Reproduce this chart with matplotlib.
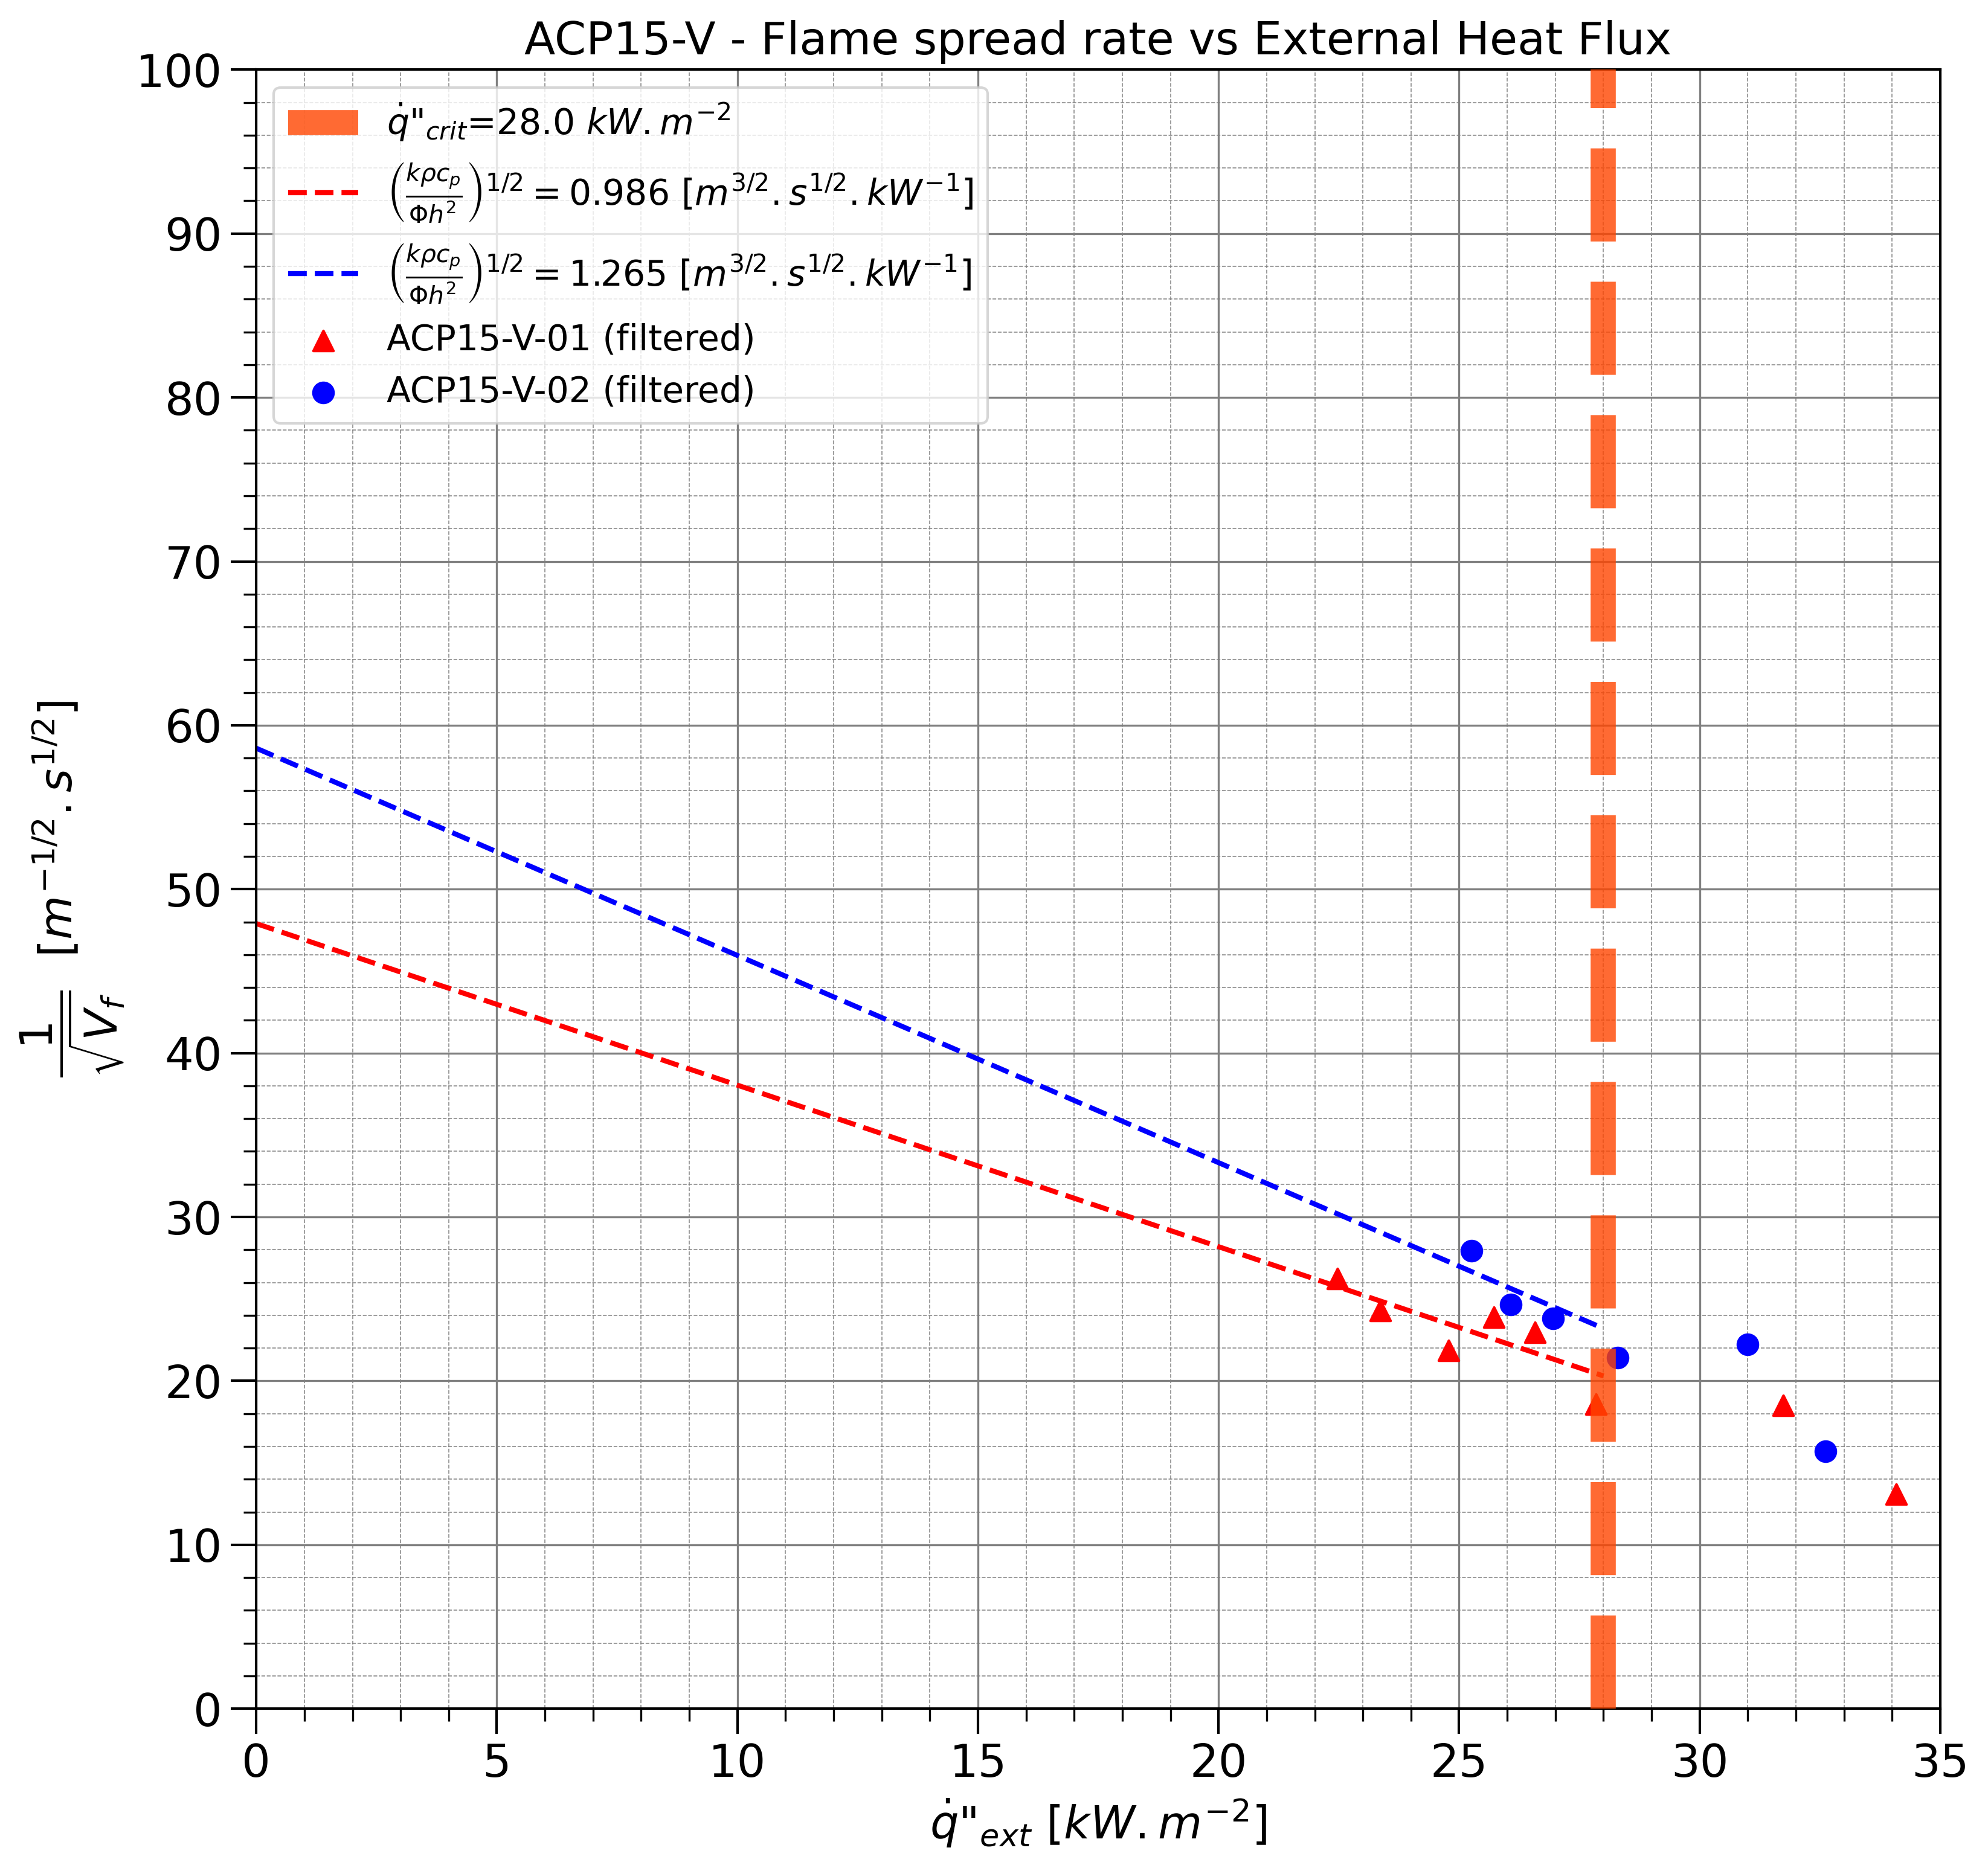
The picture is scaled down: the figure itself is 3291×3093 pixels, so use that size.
import numpy as np
import matplotlib
matplotlib.use("Agg")
import matplotlib.pyplot as plt
from matplotlib.ticker import MultipleLocator

# ── data ─────────────────────────────────────────────────────────────────────
q_crit = 28.0

v01_q = [22.47, 23.36, 24.78, 25.72, 26.58, 27.84, 31.74, 34.08]
v01_y = [26.23, 24.30, 21.86, 23.90, 22.96, 18.58, 18.49, 13.10]

v02_q = [25.26, 26.07, 26.95, 28.30, 31.00, 32.62]
v02_y = [27.94, 24.65, 23.80, 21.41, 22.23, 15.70]

fit_q = [0.0, 28.0]
fit_red_y = [47.9, 20.3]     # 0.986
fit_blue_y = [58.6, 23.2]    # 1.265
fit_red_coef = 0.986
fit_blue_coef = 1.265

fig = plt.figure(figsize=(10.97, 10.31), dpi=300)
ax = fig.add_axes([0.1289, 0.0853, 0.8471, 0.8774])

ax.axvline(q_crit, color="orangered", alpha=0.8, linewidth=10, linestyle="--",
           label=r'$\dot{q}$"$_{crit}$=' + f"{q_crit} " + r"$kW.m^{-2}$", zorder=3)

frac = r"\left(\frac{k\rho c_p}{\Phi h^2}\right)^{1/2}"
ax.plot(fit_q, fit_red_y, color="red", linestyle="--", linewidth=2,
        label=rf"${frac} = {fit_red_coef}\ [m^{{3/2}}.s^{{1/2}}.kW^{{-1}}]$", zorder=2)
ax.plot(fit_q, fit_blue_y, color="blue", linestyle="--", linewidth=2,
        label=rf"${frac} = {fit_blue_coef}\ [m^{{3/2}}.s^{{1/2}}.kW^{{-1}}]$", zorder=2)

ax.scatter(v01_q, v01_y, marker="^", s=64, color="red", label="ACP15-V-01 (filtered)", zorder=2)
ax.scatter(v02_q, v02_y, marker="o", s=64, color="blue", label="ACP15-V-02 (filtered)", zorder=2)

ax.set_xlim(0, 35)
ax.set_ylim(0, 100)
ax.xaxis.set_major_locator(MultipleLocator(5))
ax.xaxis.set_minor_locator(MultipleLocator(1))
ax.yaxis.set_major_locator(MultipleLocator(10))
ax.yaxis.set_minor_locator(MultipleLocator(2))

ax.grid(which="major", color="gray", linestyle="-", linewidth=0.8)
ax.grid(which="minor", color="gray", linestyle="--", linewidth=0.4, alpha=0.9)
ax.set_axisbelow(True)

ax.tick_params(which="major", length=10, width=1, labelsize=18)
ax.tick_params(which="minor", length=5, width=0.8)
for sp in ax.spines.values():
    sp.set_linewidth(1.0)

ax.set_title("ACP15-V - Flame spread rate vs External Heat Flux", fontsize=18)
ax.set_xlabel(r'$\dot{q}$"$_{ext}$ [$kW.m^{-2}$]', fontsize=18)
ax.set_ylabel(r"$\dfrac{1}{\sqrt{V_f}}$  $[m^{-1/2}.s^{1/2}]$", fontsize=18)

ax.legend(loc="upper left", fontsize=14)

fig.savefig("out.png", dpi=300)
